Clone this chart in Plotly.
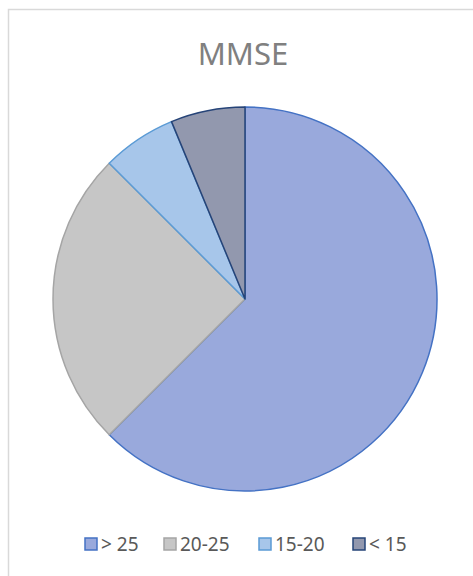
import plotly.graph_objects as go

categories = ["> 25", "20-25", "15-20", "< 15"]
values = [10, 4, 1, 1]
fill_colors = ["#99A9DC", "#C6C6C6", "#A7C6EA", "#9298AE"]
line_colors = ["#4472C4", "#A5A5A5", "#5B9BD5", "#264478"]
legend_x = [85, 164, 259, 353]

W, H = 473, 576
cx, cy, r = 245, 299, 192

fig = go.Figure(go.Pie(
    labels=categories, values=values, sort=False, direction="clockwise", rotation=0,
    marker=dict(colors=fill_colors, line=dict(color=line_colors, width=1.5)),
    textinfo="none", hoverinfo="label+value", showlegend=False,
    domain=dict(x=[(cx - r) / W, (cx + r) / W], y=[1 - (cy + r) / H, 1 - (cy - r) / H]),
))

shapes = [dict(type="rect", xref="paper", yref="paper", x0=8.5 / W, y0=-0.1,
               x1=1.1, y1=1 - 9.5 / H, line=dict(color="#D9D9D9", width=1.5))]
annotations = []
ly = 544
for lab, fc, lc, lx in zip(categories, fill_colors, line_colors, legend_x):
    shapes.append(dict(type="rect", xref="paper", yref="paper",
                       x0=lx / W, x1=(lx + 12) / W, y0=1 - (ly + 6) / H, y1=1 - (ly - 6) / H,
                       fillcolor=fc, line=dict(color=lc, width=1.5)))
    annotations.append(dict(text=lab, xref="paper", yref="paper", x=(lx + 14) / W,
                            y=1 - ly / H, xanchor="left", yanchor="middle", showarrow=False,
                            font=dict(family="Noto Sans", size=19, color="#595959")))

fig.update_layout(
    width=W, height=H, margin=dict(l=0, r=0, t=0, b=0),
    paper_bgcolor="white",
    title=dict(text="MMSE", x=243 / W, xanchor="center", y=1 - 54.5 / H, yanchor="middle",
               font=dict(family="Noto Sans", size=31, color="#808080")),
    shapes=shapes, annotations=annotations,
)

fig.write_html("out.html", config={"displayModeBar": False},
               post_script="document.body.style.margin='0';")
